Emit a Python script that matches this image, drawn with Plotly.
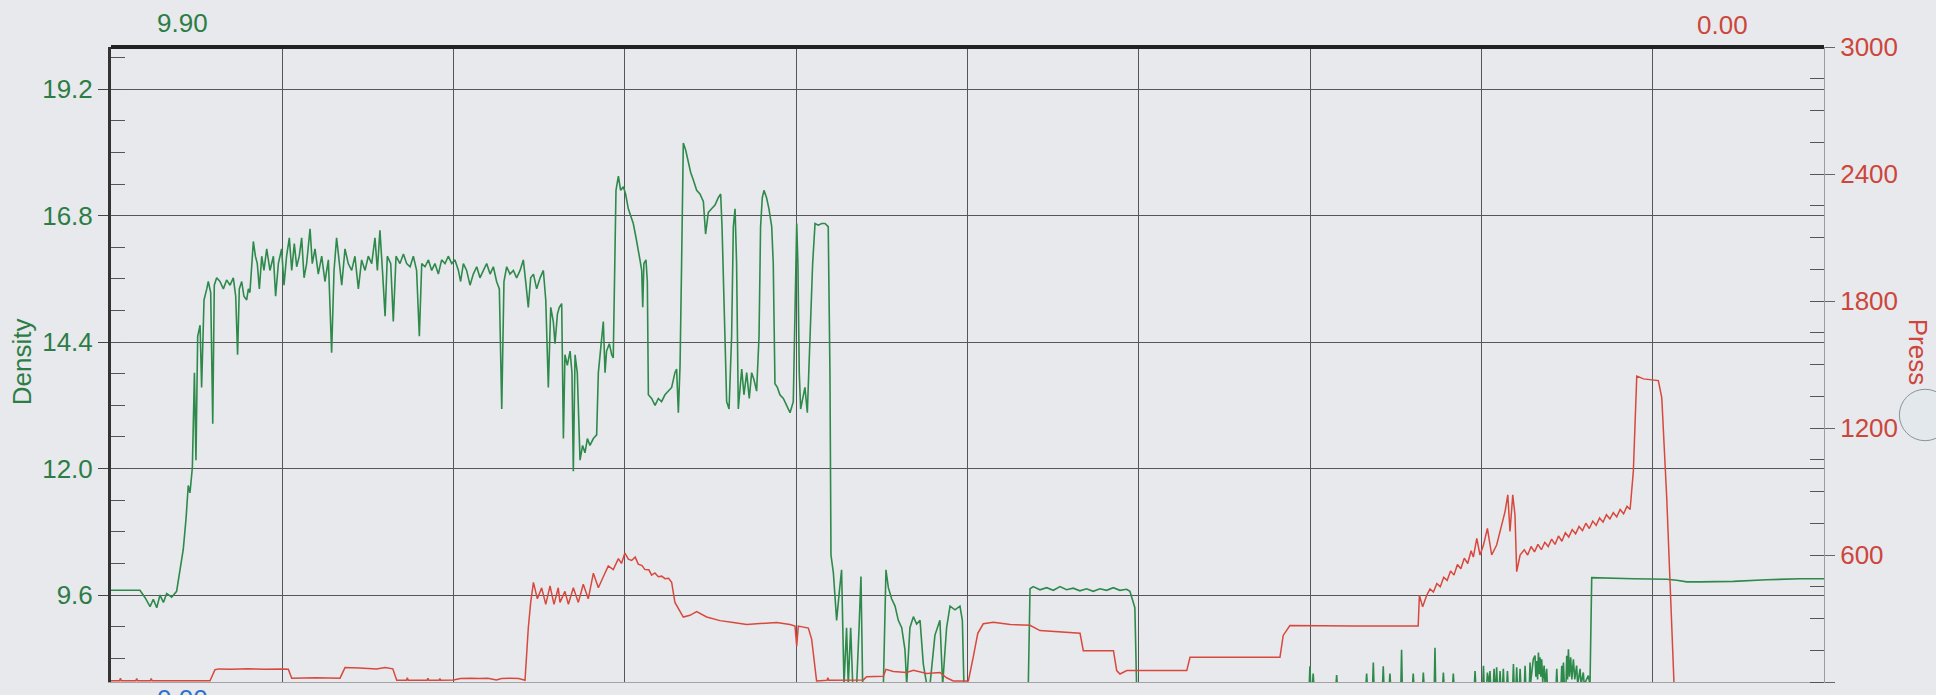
import plotly.graph_objects as go

# density trace: (position along run %, density)
density_pts = [
    (0, 9.69), (1.69, 9.69), (1.99, 9.55), (2.28, 9.38), (2.47, 9.52), (2.67, 9.36), (2.86, 9.6),
    (3.06, 9.46), (3.25, 9.63), (3.54, 9.56), (3.83, 9.67), (4.03, 10.08), (4.22, 10.47), (4.38, 11.05),
    (4.51, 11.68), (4.61, 11.54), (4.75, 12.02), (4.87, 13.82), (4.96, 12.16), (5.06, 14.51), (5.2, 14.72),
    (5.29, 13.54), (5.43, 15.2), (5.59, 15.41), (5.68, 15.55), (5.82, 15.34), (5.94, 12.85), (6.03, 15.48),
    (6.17, 15.62), (6.36, 15.55), (6.56, 15.41), (6.75, 15.58), (6.95, 15.48), (7.14, 15.62), (7.28, 15.27),
    (7.39, 14.16), (7.49, 15.41), (7.63, 15.55), (7.76, 15.27), (7.92, 15.2), (8.02, 15.41), (8.11, 15.34),
    (8.21, 15.76), (8.31, 16.31), (8.43, 16.03), (8.54, 15.89), (8.66, 15.41), (8.8, 16.03), (8.93, 15.76),
    (9.09, 16.17), (9.28, 15.76), (9.48, 16.03), (9.61, 15.27), (9.77, 15.89), (9.96, 16.17), (10.1, 15.48),
    (10.25, 16.03), (10.41, 16.38), (10.55, 15.76), (10.7, 16.27), (10.84, 15.83), (10.99, 16.03),
    (11.13, 16.38), (11.27, 15.62), (11.42, 15.89), (11.62, 16.55), (11.75, 15.89), (11.91, 16.17),
    (12.1, 15.69), (12.3, 16.03), (12.49, 15.55), (12.69, 15.96), (12.88, 14.2), (13.02, 15.76),
    (13.17, 16.38), (13.33, 15.89), (13.47, 15.48), (13.66, 16.17), (13.85, 15.89), (14.05, 15.76),
    (14.24, 16.03), (14.44, 15.41), (14.63, 15.96), (14.83, 15.76), (15.02, 16.03), (15.22, 15.89),
    (15.41, 16.38), (15.55, 15.76), (15.7, 16.52), (15.86, 15.69), (16.0, 14.89), (16.13, 16.03),
    (16.33, 15.89), (16.48, 14.79), (16.64, 16.03), (16.87, 15.89), (17.07, 16.07), (17.26, 15.89),
    (17.46, 15.83), (17.65, 16.03), (17.84, 15.76), (18.0, 14.51), (18.14, 15.89), (18.33, 15.83),
    (18.53, 15.96), (18.72, 15.76), (18.91, 15.89), (19.11, 15.69), (19.3, 15.96), (19.5, 15.89),
    (19.69, 16.03), (19.89, 15.89), (20.08, 15.96), (20.28, 15.76), (20.41, 15.55), (20.57, 15.89),
    (20.76, 15.76), (20.96, 15.48), (21.15, 15.69), (21.35, 15.83), (21.54, 15.62), (21.74, 15.76),
    (21.93, 15.89), (22.13, 15.69), (22.32, 15.83), (22.51, 15.55), (22.67, 15.41), (22.81, 13.13),
    (22.94, 15.55), (23.1, 15.83), (23.29, 15.69), (23.49, 15.76), (23.68, 15.62), (23.88, 15.76),
    (24.07, 15.96), (24.23, 15.48), (24.36, 15.06), (24.5, 15.62), (24.66, 15.69), (24.85, 15.41),
    (25.05, 15.62), (25.24, 15.76), (25.38, 15.2), (25.53, 13.54), (25.67, 15.06), (25.82, 14.79),
    (25.92, 14.37), (26.06, 14.93), (26.17, 15.06), (26.31, 15.13), (26.41, 12.57), (26.5, 14.16),
    (26.64, 13.96), (26.8, 14.23), (26.91, 13.82), (26.99, 11.95), (27.09, 14.16), (27.22, 13.82),
    (27.38, 12.16), (27.53, 12.44), (27.67, 12.3), (27.81, 12.57), (27.96, 12.44), (28.16, 12.57),
    (28.35, 12.64), (28.45, 13.82), (28.55, 14.16), (28.64, 14.51), (28.74, 14.79), (28.84, 13.82),
    (28.93, 14.23), (29.09, 14.37), (29.23, 14.16), (29.32, 14.1), (29.42, 15.89), (29.48, 17.28),
    (29.62, 17.55), (29.75, 17.28), (29.91, 17.35), (30.04, 17.21), (30.2, 16.93), (30.34, 16.79),
    (30.49, 16.65), (30.65, 16.38), (30.78, 16.17), (30.88, 15.96), (30.98, 15.76), (31.04, 15.06),
    (31.11, 15.89), (31.23, 15.96), (31.31, 15.55), (31.37, 13.4), (31.56, 13.33), (31.76, 13.2),
    (31.95, 13.33), (32.14, 13.27), (32.34, 13.4), (32.53, 13.47), (32.73, 13.54), (32.92, 13.82),
    (33.02, 13.89), (33.12, 13.06), (33.22, 13.96), (33.31, 15.89), (33.41, 18.18), (33.55, 18.04),
    (33.7, 17.83), (33.84, 17.62), (33.99, 17.48), (34.19, 17.28), (34.38, 17.21), (34.58, 17.07),
    (34.71, 16.45), (34.87, 16.86), (35.06, 16.93), (35.26, 17.0), (35.45, 17.14), (35.59, 17.21),
    (35.67, 16.59), (35.74, 15.89), (35.84, 14.51), (35.94, 13.27), (36.08, 13.13), (36.23, 14.51),
    (36.33, 16.59), (36.43, 16.93), (36.52, 15.89), (36.62, 13.13), (36.82, 13.89), (36.95, 13.4),
    (37.11, 13.82), (37.26, 13.33), (37.4, 13.82), (37.54, 13.68), (37.69, 13.47), (37.83, 14.51),
    (37.92, 16.59), (38.02, 17.14), (38.12, 17.28), (38.27, 17.14), (38.41, 16.93), (38.57, 16.59),
    (38.66, 15.89), (38.76, 13.61), (38.9, 13.54), (39.05, 13.4), (39.25, 13.33), (39.44, 13.2),
    (39.64, 13.06), (39.83, 13.27), (39.93, 15.2), (40.03, 16.65), (40.1, 15.89), (40.18, 13.82),
    (40.26, 13.13), (40.42, 13.4), (40.51, 13.54), (40.65, 13.06), (40.75, 13.82), (40.84, 14.79),
    (40.96, 15.89), (41.1, 16.65), (41.29, 16.62), (41.49, 16.65), (41.68, 16.65), (41.87, 16.59),
    (41.97, 13.82), (42.03, 10.36), (42.17, 10.02), (42.36, 9.12), (42.52, 9.67), (42.65, 10.08),
    (42.79, 7.9), (42.94, 8.98), (43.04, 7.9), (43.18, 8.98), (43.3, 7.9), (43.53, 7.9), (43.67, 8.98),
    (43.78, 9.95), (43.88, 7.9), (45.09, 7.9), (45.24, 10.08), (45.38, 9.74), (45.57, 9.53),
    (45.77, 9.39), (45.96, 9.12), (46.16, 8.98), (46.35, 8.56), (46.45, 7.9), (46.64, 8.98),
    (46.84, 9.19), (47.03, 9.05), (47.23, 9.12), (47.42, 8.29), (47.62, 7.9), (47.81, 7.9), (48.1, 8.84),
    (48.39, 9.12), (48.55, 7.9), (48.78, 8.98), (48.98, 9.39), (49.27, 9.32), (49.56, 9.39), (49.7, 9.12),
    (49.79, 7.9), (53.55, 7.9), (53.65, 9.72), (53.84, 9.76), (54.23, 9.70), (54.62, 9.74), (55.01, 9.69),
    (55.4, 9.76), (55.78, 9.70), (56.17, 9.73), (56.56, 9.68), (56.95, 9.72), (57.34, 9.67),
    (57.73, 9.72), (58.12, 9.69), (58.51, 9.74), (58.9, 9.69), (59.29, 9.71), (59.48, 9.67),
    (59.64, 9.5), (59.77, 9.36), (59.87, 7.9),
    (69.95, 7.9), (69.99, 8.25), (70.03, 7.9), (70.14, 7.9), (70.18, 8.11), (70.22, 7.9),
    (71.51, 7.9), (71.55, 8.08), (71.59, 7.9), (73.26, 7.9), (73.3, 8.11), (73.34, 7.9),
    (73.65, 7.9), (73.69, 8.32), (73.73, 7.9), (74.23, 7.9), (74.27, 8.25), (74.31, 7.9),
    (74.62, 7.9), (74.66, 8.11), (74.7, 7.9), (75.3, 7.9), (75.34, 8.56), (75.38, 7.9),
    (75.98, 7.9), (76.02, 8.11), (76.06, 7.9), (76.57, 7.9), (76.61, 8.13), (76.65, 7.9),
    (77.25, 7.9), (77.29, 8.6), (77.33, 7.9), (77.74, 7.9), (77.78, 8.13), (77.82, 7.9),
    (78.32, 7.9), (78.36, 8.11), (78.4, 7.9), (79.59, 7.9), (79.63, 8.16), (79.67, 7.9),
    (80.08, 7.9), (80.12, 8.26), (80.16, 7.9), (80.31, 7.9), (80.35, 8.13), (80.46, 7.9),
    (80.5, 8.16), (80.54, 7.9), (80.7, 7.9), (80.74, 8.2), (80.78, 7.9), (80.85, 7.9), (80.89, 8.23),
    (80.93, 7.9), (81.05, 7.9), (81.09, 8.16), (81.13, 7.9), (81.24, 7.9), (81.28, 8.2), (81.32, 7.9),
    (81.48, 7.9), (81.52, 8.16), (81.56, 7.9), (81.83, 7.9), (81.87, 8.29), (81.91, 7.9),
    (82.02, 7.9), (82.06, 8.23), (82.1, 7.9), (82.22, 7.9), (82.26, 8.2), (82.3, 7.9),
    (82.51, 7.9), (82.55, 8.26), (82.59, 7.9), (82.8, 7.9), (82.84, 8.32), (82.88, 7.95),
    (83.03, 8.38), (83.13, 8.45), (83.18, 8.05), (83.23, 8.35), (83.28, 8.0), (83.33, 8.51),
    (83.38, 8.1), (83.42, 8.42), (83.47, 8.05), (83.52, 8.38), (83.58, 7.95), (83.66, 8.26),
    (83.72, 7.9), (83.81, 8.2), (83.85, 7.9), (84.36, 7.9), (84.4, 8.2), (84.44, 7.9),
    (84.65, 7.9), (84.69, 8.26), (84.74, 7.95), (84.79, 8.32), (84.84, 7.9), (84.94, 7.9),
    (84.98, 8.45), (85.03, 8.0), (85.08, 8.57), (85.14, 8.05), (85.21, 8.42), (85.28, 8.0),
    (85.37, 8.38), (85.45, 8.0), (85.56, 8.26), (85.62, 7.9), (85.76, 8.2), (85.82, 7.9),
    (85.95, 8.13), (86.0, 7.9), (86.24, 8.07), (86.34, 7.9), (86.44, 9.93), (88.87, 9.91),
    (90.82, 9.9), (91.4, 9.88), (91.99, 9.85), (92.76, 9.85), (94.71, 9.86), (96.66, 9.89),
    (98.6, 9.91), (100.0, 9.91),
]

# pressure trace: (position along run %, pressure)
pressure_pts = [
    (0, 6), (0.5, 6), (0.55, 18), (0.6, 6), (1.45, 6), (1.5, 16), (1.55, 6), (2.3, 6), (2.35, 16),
    (2.4, 6), (5.78, 6), (6.07, 58), (6.3, 62), (7.0, 60), (8.0, 63), (9.0, 60), (10.0, 62),
    (10.35, 60), (10.55, 18), (12.0, 20), (13.37, 18), (13.66, 68), (14.5, 66), (15.5, 62),
    (16.0, 68), (16.45, 62), (16.68, 8), (17.25, 8), (17.3, 20), (17.35, 8), (18.45, 8), (18.5, 18),
    (18.55, 8), (19.15, 8), (19.2, 16), (19.25, 8), (20.0, 10), (20.4, 16), (21.0, 18), (21.5, 16),
    (22.0, 18), (22.5, 10), (22.8, 16), (23.3, 18), (23.8, 16), (24.17, 8), (24.36, 255), (24.5, 376),
    (24.66, 471), (24.89, 393), (25.14, 445), (25.38, 367), (25.63, 454), (25.86, 367), (26.11, 445),
    (26.21, 376), (26.5, 428), (26.7, 367), (26.99, 445), (27.28, 376), (27.57, 462), (27.86, 393),
    (28.16, 514), (28.45, 445), (28.74, 497), (29.03, 548), (29.32, 531), (29.62, 583), (29.8, 560),
    (30.0, 609), (30.2, 580), (30.39, 574), (30.6, 590), (30.78, 557), (31.0, 550), (31.17, 531),
    (31.4, 530), (31.56, 505), (31.75, 515), (31.95, 497), (32.15, 500), (32.34, 488), (32.55, 490),
    (32.73, 471), (32.92, 376), (33.12, 350), (33.41, 307), (33.8, 315), (34.19, 333), (34.77, 307),
    (35.55, 290), (36.33, 281), (37.11, 272), (37.89, 276), (38.86, 281), (39.64, 272), (39.93, 264),
    (40.03, 169), (40.12, 264), (40.71, 255), (40.9, 203), (41.19, 5), (41.8, 8), (41.85, 20),
    (41.9, 8), (43.92, 10), (44.11, 25), (45.09, 27), (45.24, 60), (45.67, 50), (46.45, 45),
    (46.84, 55), (47.62, 40), (48.39, 45), (48.78, 20), (49.17, 5), (50.05, 5), (50.34, 120),
    (50.6, 230), (50.92, 275), (51.51, 282), (52.5, 272), (53.65, 268), (54.23, 243), (55.5, 236),
    (56.57, 230), (56.76, 148), (58.52, 148), (58.71, 54), (58.9, 38), (59.3, 54), (62.8, 54),
    (62.99, 117), (68.24, 117), (68.43, 220), (68.82, 267), (72.52, 265), (76.31, 264), (76.38, 410),
    (76.57, 355), (76.81, 410), (77.0, 440), (77.2, 425), (77.4, 465), (77.6, 450), (77.8, 495),
    (78.0, 480), (78.2, 525), (78.4, 505), (78.6, 555), (78.8, 535), (79.0, 585), (79.2, 560),
    (79.4, 620), (79.53, 590), (79.73, 679), (79.92, 600), (80.12, 647), (80.35, 726), (80.6, 600),
    (80.89, 647), (81.19, 742), (81.38, 805), (81.54, 884), (81.67, 711), (81.83, 884), (81.96, 790),
    (82.06, 521), (82.26, 600), (82.5, 625), (82.7, 600), (82.9, 640), (83.1, 615), (83.3, 650),
    (83.5, 625), (83.7, 660), (83.9, 640), (84.1, 675), (84.3, 650), (84.5, 690), (84.7, 665),
    (84.9, 705), (85.1, 685), (85.3, 720), (85.5, 700), (85.7, 735), (85.9, 715), (86.1, 750),
    (86.3, 725), (86.5, 760), (86.7, 740), (86.9, 775), (87.1, 755), (87.3, 790), (87.5, 770),
    (87.7, 800), (87.9, 780), (88.1, 815), (88.3, 795), (88.5, 830), (88.68, 815), (88.87, 995),
    (89.07, 1445), (89.46, 1432), (90.33, 1424), (90.53, 1342), (90.82, 868), (91.25, -20),
]

density_range = [7.95, 20.0]
pressure_range = [0, 3000]
top_left_label = "9.90"
top_right_label = "0.00"
bottom_left_label = "0.00"

GREEN = "#2c7d45"
RED = "#cc463b"
BLUE = "#2f6fd0"
GRID = "#565656"
BG = "#e8e9ed"
FONT = "Liberation Sans, Arial, sans-serif"

dx, dy = zip(*density_pts)
px, py = zip(*pressure_pts)

fig = go.Figure()
fig.add_trace(go.Scatter(x=dx, y=dy, mode="lines", name="Density",
                         line=dict(color="#2e8a4b", width=1.6)))
fig.add_trace(go.Scatter(x=px, y=py, mode="lines", name="Press", yaxis="y2",
                         line=dict(color="#d8483c", width=1.5)))
# empty trace so the inner half of the right-hand major ticks gets drawn
fig.add_trace(go.Scatter(x=[], y=[], yaxis="y3", showlegend=False, hoverinfo="skip"))

fig.update_layout(
    width=1936, height=695,
    margin=dict(l=111, r=112, t=47, b=13),
    paper_bgcolor=BG, plot_bgcolor=BG,
    showlegend=False,
    font=dict(family=FONT),
    xaxis=dict(range=[0, 100], tick0=0, dtick=10, showgrid=True, gridcolor=GRID, gridwidth=1,
               showticklabels=False, ticks="", zeroline=False,
               showline=True, linecolor="#a3a3a3", linewidth=1),
    yaxis=dict(range=density_range, tick0=0, dtick=2.4, tickformat=".1f",
               ticks="outside", ticklen=10, tickcolor="#444", tickwidth=1,
               minor=dict(tick0=0, dtick=0.6, ticks="inside", ticklen=14, tickcolor="#555", showgrid=False),
               showgrid=True, gridcolor=GRID, gridwidth=1, zeroline=False,
               showline=True, linecolor="#333", linewidth=3,
               tickfont=dict(size=26, color=GREEN, family=FONT)),
    yaxis2=dict(range=pressure_range, overlaying="y", side="right", tick0=0, dtick=600,
                ticks="outside", ticklen=10, tickcolor="#666", tickwidth=1,
                minor=dict(tick0=0, dtick=150, ticks="inside", ticklen=14, tickcolor="#555", showgrid=False),
                showgrid=False, zeroline=False,
                showline=True, linecolor="#9c9c9c", linewidth=1,
                tickfont=dict(size=26, color=RED, family=FONT)),
    yaxis3=dict(range=pressure_range, overlaying="y", side="right", tick0=0, dtick=600,
                ticks="inside", ticklen=14, tickcolor="#555", tickwidth=1,
                showticklabels=False, showgrid=False, zeroline=False, showline=False),
)

# heavy top frame line
fig.add_shape(type="line", xref="paper", yref="paper", x0=0, x1=1, y0=1, y1=1,
              line=dict(color="#222", width=4))
# the paper ball sitting on the right edge of the scan
fig.add_shape(type="circle", xref="paper", yref="paper", x0=1.044, x1=1.074, y0=0.38, y1=0.461,
              fillcolor="#e2e8ec", line=dict(color="#8a949c", width=1))

fig.add_annotation(text=top_left_label, xref="paper", yref="paper", x=0.042, y=1.038,
                   xanchor="center", yanchor="middle", showarrow=False,
                   font=dict(size=26, color=GREEN))
fig.add_annotation(text=top_right_label, xref="paper", yref="paper", x=0.9405, y=1.035,
                   xanchor="center", yanchor="middle", showarrow=False,
                   font=dict(size=26, color=RED))
fig.add_annotation(text=bottom_left_label, xref="paper", yref="paper", x=0.042, y=0.0,
                   xanchor="center", yanchor="top", showarrow=False,
                   font=dict(size=26, color=BLUE))
fig.add_annotation(text="Density", xref="paper", yref="paper", x=-0.052, y=0.505,
                   xanchor="center", yanchor="middle", textangle=-90, showarrow=False,
                   font=dict(size=26, color=GREEN))
fig.add_annotation(text="Press", xref="paper", yref="paper", x=1.0549, y=0.52,
                   xanchor="center", yanchor="middle", textangle=90, showarrow=False,
                   font=dict(size=26, color=RED))

fig.write_html("out.html", config={"displayModeBar": False},
               post_script="document.body.style.margin='0';document.body.style.overflow='hidden';")
